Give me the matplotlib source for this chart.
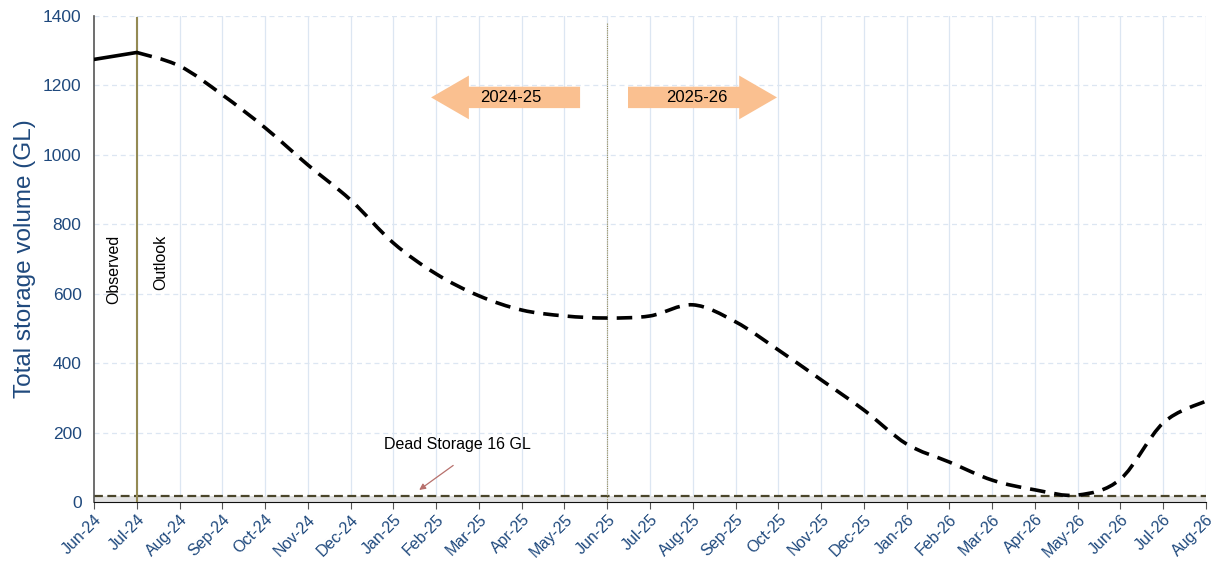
#!/usr/bin/env python3
"""Storage outlook chart: observed + forecast total storage volume."""
import matplotlib
matplotlib.use("Agg")
import matplotlib.pyplot as plt
from matplotlib.path import Path
from matplotlib.patches import PathPatch, Polygon

# Data
MONTHS = ["Jun-24", "Jul-24", "Aug-24", "Sep-24", "Oct-24", "Nov-24", "Dec-24",
          "Jan-25", "Feb-25", "Mar-25", "Apr-25", "May-25", "Jun-25", "Jul-25",
          "Aug-25", "Sep-25", "Oct-25", "Nov-25", "Dec-25", "Jan-26", "Feb-26",
          "Mar-26", "Apr-26", "May-26", "Jun-26", "Jul-26", "Aug-26"]
OBSERVED = [1275, 1295]
OUTLOOK = [1295, 1256, 1173, 1078, 971, 870, 746, 657, 594, 553, 536, 530,
           536, 568, 519, 438, 352, 265, 167, 115, 63, 35, 20, 66, 228, 291]
DEAD_STORAGE = 16
YTICKS = [0, 200, 400, 600, 800, 1000, 1200, 1400]

# Palette
TICK_BLUE = "#1F497D"
GRID = "#DCE6F2"
OLIVE = "#948A54"
DEAD = "#4A452A"
ARROW_FILL = "#FAC090"
NOTE_RED = "#B7706C"

plt.rcParams.update({
    "font.family": ["Liberation Sans", "DejaVu Sans"],
    "font.size": 11,
})


def smooth_path(xs, ys):
    """Catmull-Rom curve through the points, as cubic Bezier segments."""
    pts = list(zip(xs, ys))
    verts = [pts[0]]
    codes = [Path.MOVETO]
    n = len(pts)
    for i in range(n - 1):
        p0 = pts[max(i - 1, 0)]
        p1 = pts[i]
        p2 = pts[i + 1]
        p3 = pts[min(i + 2, n - 1)]
        c1 = (p1[0] + (p2[0] - p0[0]) / 6, p1[1] + (p2[1] - p0[1]) / 6)
        c2 = (p2[0] - (p3[0] - p1[0]) / 6, p2[1] - (p3[1] - p1[1]) / 6)
        verts += [c1, c2, p2]
        codes += [Path.CURVE4] * 3
    return Path(verts, codes)


fig = plt.figure(figsize=(12.15, 5.68), dpi=100)
ax = fig.add_axes([0.0774, 0.1162, 0.9152, 0.8556])

x_all = list(range(len(MONTHS)))
x_obs = x_all[:len(OBSERVED)]
x_out = x_all[len(OBSERVED) - 1:]

ax.set_xlim(0, len(MONTHS) - 1)
ax.set_ylim(0, 1400)

# grid
ax.set_xticks(x_all)
ax.set_xticklabels(MONTHS, rotation=45, ha="right", rotation_mode="anchor",
                   color=TICK_BLUE, fontsize=11.5)
ax.set_yticks(YTICKS)
ax.set_yticklabels([str(v) for v in YTICKS], color=TICK_BLUE, fontsize=12.5)
ax.tick_params(axis="y", length=0, pad=9)
ax.tick_params(axis="x", length=5, color="#555555", pad=2)
for x in x_all[1:]:
    ax.axvline(x, color=GRID, lw=0.9, zorder=0)
for y in YTICKS[1:]:
    ax.axhline(y, color=GRID, lw=0.9, ls=(0, (4, 3)), zorder=0)

for side in ("top", "right"):
    ax.spines[side].set_visible(False)
ax.spines["left"].set_color("#555555")
ax.spines["left"].set_linewidth(1.2)
ax.spines["bottom"].set_color("#111111")

ax.set_ylabel("Total storage volume (GL)", color=TICK_BLUE, fontsize=17.5,
              labelpad=5)

# dead storage band + line
ax.fill_between([0, len(MONTHS) - 1], 0, DEAD_STORAGE, color="#E3E3E3",
                zorder=1, lw=0)
ax.axhline(DEAD_STORAGE, color=DEAD, lw=1.6, ls=(0, (4, 2)), zorder=2)

# observed / outlook separators
ax.plot([1, 1], [0, 1395], color=OLIVE, lw=1.5, zorder=3)
ax.plot([12, 12], [0, 1380], color=OLIVE, lw=0.8, ls=(0, (1, 1)), zorder=3)

# series
ax.plot(x_obs, OBSERVED, color="black", lw=2.6, solid_capstyle="round",
        zorder=4)
ax.add_patch(PathPatch(smooth_path(x_out, OUTLOOK), fill=False,
                       edgecolor="black", lw=2.6, ls=(0, (4.3, 2.5)),
                       zorder=4))

# labels
ax.text(0.45, 670, "Observed", rotation=90, ha="center", va="center",
        fontsize=11.5)
ax.text(1.55, 690, "Outlook", rotation=90, ha="center", va="center",
        fontsize=11.5)

ax.annotate("", xy=(7.55, 30), xytext=(8.45, 110),
            arrowprops=dict(arrowstyle="-|>", color=NOTE_RED, lw=0.9,
                            mutation_scale=9))
ax.text(8.5, 165, "Dead Storage 16 GL", ha="center", va="center",
        fontsize=11.5)


# season arrows (axes fraction)
def block_arrow(x0, x1, yc, direction, label):
    hb, hh, hl = 0.022, 0.045, 0.034
    if direction == "left":
        pts = [(x1, yc - hb), (x1, yc + hb), (x0 + hl, yc + hb),
               (x0 + hl, yc + hh), (x0, yc), (x0 + hl, yc - hh),
               (x0 + hl, yc - hb)]
        tx = (x0 + x1) / 2 + 0.005
    else:
        pts = [(x0, yc - hb), (x0, yc + hb), (x1 - hl, yc + hb),
               (x1 - hl, yc + hh), (x1, yc), (x1 - hl, yc - hh),
               (x1 - hl, yc - hb)]
        tx = (x0 + x1) / 2 - 0.005
    ax.add_patch(Polygon(pts, closed=True, facecolor=ARROW_FILL,
                         edgecolor="none", transform=ax.transAxes, zorder=5))
    ax.text(tx, yc, label, transform=ax.transAxes, ha="center", va="center",
            fontsize=12, zorder=6)


block_arrow(0.3031, 0.4371, 0.8325, "left", "2024-25")
block_arrow(0.4802, 0.6142, 0.8325, "right", "2025-26")

fig.savefig("out.png", dpi=100)
